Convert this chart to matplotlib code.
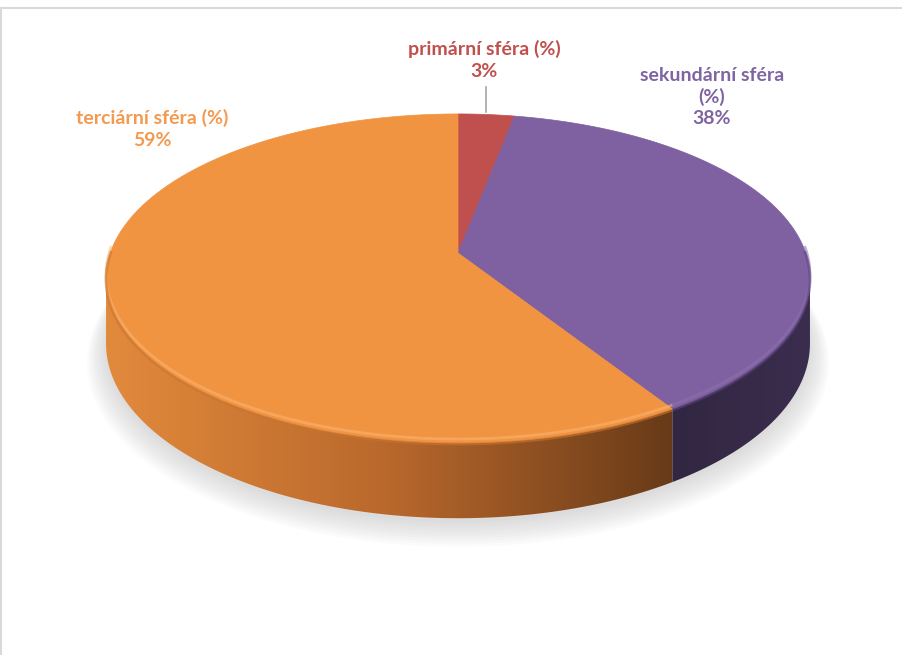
import numpy as np
import matplotlib
matplotlib.use("Agg")
import matplotlib.pyplot as plt
from matplotlib.patches import Polygon
from matplotlib.lines import Line2D
from matplotlib.colors import LinearSegmentedColormap

# ---- data ----
categories = ["primární sféra (%)", "sekundární sféra (%)", "terciární sféra (%)"]
values = [3, 38, 59]
label_texts = ["primární sféra (%)", "sekundární sféra\n(%)", "terciární sféra (%)"]
top_colors = ["#C0504D", "#7F60A0", "#F19442"]
side_light = ["#A8403D", "#3A2D4E", "#E28A3C"]
side_dark = ["#7A2E2C", "#322742", "#683A18"]
text_colors = ["#C0504D", "#8064A2", "#F39A4F"]

W, H = 903, 655
fig = plt.figure(figsize=(W / 100, H / 100), dpi=100)
fig.patch.set_facecolor("white")
ax = fig.add_axes([0, 0, 1, 1])
ax.set_xlim(0, W)
ax.set_ylim(H, 0)
ax.axis("off")

# border of chart area
fig.add_artist(Line2D([0, 1], [1 - 7.5 / H, 1 - 7.5 / H], color="#D9D9D9", lw=1.5))
fig.add_artist(Line2D([0.8 / W, 0.8 / W], [0, 1 - 7.5 / H], color="#D9D9D9", lw=1.5))

# ---- perspective geometry ----
cx, cy = 458.0, 253.0
k = 0.155
A = 347.7
B = 160.6
Hs = 63.5  # side thickness (scaled by perspective)


def proj(t, drop=False):
    """t: angle in degrees, clockwise from top."""
    tr = np.radians(t)
    u = np.sin(tr)
    v = np.cos(tr)
    w = 1 + k * v
    X = cx + A * u / w
    Y = cy - B * v / w
    if drop:
        Y = Y + Hs / w
    return X, Y


total = float(sum(values))
bounds = np.concatenate([[0], np.cumsum(values) / total * 360.0])

# ---- shadow ----
tt = np.linspace(0, 360, 400)
bx, by = proj(tt, drop=True)
bcx, bcy = bx.mean(), by.mean()
for i in range(10):
    s = 1.0 + 0.006 * i
    dy = 4 + 1.6 * i
    ax.add_patch(Polygon(np.column_stack([bcx + (bx - bcx) * s, bcy + (by - bcy) * s + dy]),
                         closed=True, facecolor="#808080", edgecolor="none",
                         alpha=0.028, zorder=1))

# ---- sides (gradient clipped to side polygon) ----
t_right = np.degrees(np.arccos(-k))          # rightmost silhouette
t_left = 360 - t_right                       # leftmost silhouette

for i in range(len(values)):
    a0, a1 = bounds[i], bounds[i + 1]
    lo, hi = max(a0, t_right), min(a1, t_left)
    if hi <= lo:
        continue
    ts = np.linspace(lo, hi, 300)
    x1, y1 = proj(ts)
    x2, y2 = proj(ts[::-1], drop=True)
    pts = np.column_stack([np.concatenate([x1, x2]), np.concatenate([y1, y2])])
    poly = Polygon(pts, closed=True, facecolor="none", edgecolor="none", zorder=2)
    ax.add_patch(poly)
    xmin, xmax = pts[:, 0].min(), pts[:, 0].max()
    ymin, ymax = pts[:, 1].min(), pts[:, 1].max()
    if i == 2:
        cmap = LinearSegmentedColormap.from_list("s", [side_light[i], "#B9682C", side_dark[i]])
        grad = np.linspace(0, 1, 256)[None, :]
    else:
        cmap = LinearSegmentedColormap.from_list("s", [side_dark[i], side_light[i]])
        grad = np.linspace(0, 1, 256)[None, :]
    im = ax.imshow(grad, cmap=cmap, extent=[xmin - 1, xmax + 1, ymax + 1, ymin - 1],
                   aspect="auto", zorder=2, interpolation="bilinear")
    im.set_clip_path(poly)

ax.set_xlim(0, W)
ax.set_ylim(H, 0)

# ---- top faces ----
for i in range(len(values)):
    a0, a1 = bounds[i], bounds[i + 1]
    ts = np.linspace(a0, a1, max(int(a1 - a0) * 2, 4))
    x, y = proj(ts)
    pts = np.column_stack([np.concatenate([[cx], x]), np.concatenate([[cy], y])])
    ax.add_patch(Polygon(pts, closed=True, facecolor=top_colors[i],
                         edgecolor=top_colors[i], lw=0.5, zorder=3))

# rim bevel: light highlight and darker band along front rim
for i in range(len(values)):
    a0, a1 = bounds[i], bounds[i + 1]
    lo, hi = max(a0, t_right - 10), min(a1, t_left + 10)
    if hi <= lo:
        continue
    ts = np.linspace(lo, hi, 200)
    x, y = proj(ts)
    hl = "#FBB673" if i == 2 else "#8E72B0"
    ax.plot(x, y - 4, color=hl, lw=2.0, alpha=0.55, zorder=4, solid_capstyle="butt")
    sh = "#C9742E" if i == 2 else "#5E4680"
    ax.plot(x, y + 1, color=sh, lw=2.0, alpha=0.6, zorder=4, solid_capstyle="butt")

# ---- labels ----
fam = ["Lato", "DejaVu Sans"]
fs = 14
mid0 = (bounds[0] + bounds[1]) / 2
lx0, ly0 = proj(mid0)
ax.plot([lx0, lx0], [ly0 - 2, 87], color="#A6A6A6", lw=1.2, zorder=5)
ax.text(lx0 - 2, 60, f"{label_texts[0]}\n{values[0]}%", ha="center", va="center",
        color=text_colors[0], fontsize=fs, fontweight="bold", family=fam,
        linespacing=1.3, zorder=6)
ax.text(712, 97, f"{label_texts[1]}\n{values[1]}%", ha="center", va="center",
        color=text_colors[1], fontsize=fs, fontweight="bold", family=fam,
        linespacing=1.3, zorder=6)
ax.text(152, 129, f"{label_texts[2]}\n{values[2]}%", ha="center", va="center",
        color=text_colors[2], fontsize=fs, fontweight="bold", family=fam,
        linespacing=1.3, zorder=6)

fig.savefig("out.png", dpi=100, facecolor="white")
